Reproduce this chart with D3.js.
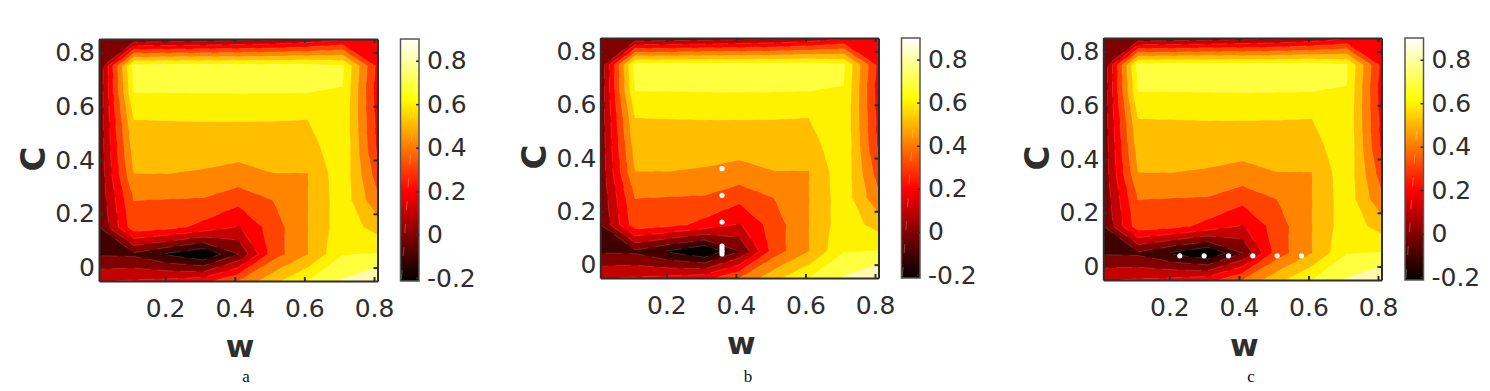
<!DOCTYPE html>
<html>
<head>
<meta charset="utf-8">
<script src="https://cdn.jsdelivr.net/npm/d3@7"></script>
<style>
    body { margin: 0; background: #fff; }
    svg { display: block; }
</style>
</head>
<body>
<svg width="1490" height="391"></svg>
<script>
// grid columns (w) and rows (C), rows listed from the bottom row up
const wGrid = [0.01, 0.11, 0.21, 0.31, 0.41, 0.51, 0.61, 0.71, 0.81];
const cGrid = [-0.05, 0.05, 0.15, 0.25, 0.35, 0.45, 0.55, 0.65, 0.75, 0.85];
const zGrid = [
    [ 0.19,  0.21,  0.23,  0.26,  0.40, 0.57, 0.70, 0.81, 0.90],
    [-0.012, -0.02, -0.115, -0.20, 0.00, 0.35, 0.499, 0.695, 0.705],
    [-0.003, 0.36,  0.33,  0.27,  0.19, 0.35, 0.499, 0.66, 0.56],
    [ 0.02,  0.401, 0.395, 0.39,  0.33, 0.40, 0.499, 0.66, 0.42],
    [ 0.03,  0.50,  0.50,  0.49,  0.47, 0.499, 0.499, 0.67, 0.35],
    [ 0.03,  0.55,  0.55,  0.55,  0.54, 0.55, 0.55, 0.69, 0.28],
    [ 0.03,  0.60,  0.602, 0.604, 0.605, 0.603, 0.60, 0.68, 0.27],
    [ 0.02,  0.70,  0.70,  0.702, 0.703, 0.702, 0.70, 0.697, 0.25],
    [ 0.01,  0.74,  0.74,  0.74,  0.74, 0.74, 0.74, 0.71, 0.27],
    [ 0.01,  0.02,  0.03,  0.045, 0.06, 0.08, 0.12, 0.19, 0.24]
];

const bandLevels = [-0.3, -0.1, 0, 0.1, 0.2, 0.3, 0.4, 0.5, 0.6, 0.7, 0.8];
const bandColors = ["#000000", "#400000", "#800000", "#c40000", "#ff0000", "#ff4400",
    "#ff8400", "#ffbf00", "#fff200", "#ffff40", "#fffab0"];

const barStops = [-0.214, 0.2, 0.62, 0.9];
const barColors = ["#000000", "#ff0000", "#ffff00", "#ffffff"];

const wTicks = [0.2, 0.4, 0.6, 0.8];
const cTicks = [0, 0.2, 0.4, 0.6, 0.8];
const barTicks = [-0.2, 0, 0.2, 0.4, 0.6, 0.8];

// white sample points on panels b and c
const dotsA = { w: [], c: [] };
const dotsB = { w: [0.36, 0.36, 0.36, 0.36, 0.36, 0.36, 0.36], c: [0.36, 0.26, 0.16, 0.07, 0.06, 0.05, 0.04] };
const dotsC = { w: [0.23, 0.30, 0.37, 0.44, 0.51, 0.58], c: [0.04, 0.04, 0.04, 0.04, 0.04, 0.04] };

const panels = [
    { name: "a", left: 99, right: 377.5, top: 39, bottom: 281, barLeft: 400.5, dots: dotsA, nameX: 246 },
    { name: "b", left: 600.3, right: 878.5, top: 38, bottom: 278, barLeft: 901.5, dots: dotsB, nameX: 748 },
    { name: "c", left: 1103.3, right: 1381.5, top: 38, bottom: 280, barLeft: 1405, dots: dotsC, nameX: 1251 }
];

const svg = d3.select("svg");
const ink = "#2e2e2e";
const tickFont = "DejaVu Sans";

const values = zGrid.flat();
const contours = d3.contours()
    .size([wGrid.length, cGrid.length])
    .smooth(true)
    .thresholds(bandLevels)(values);

const wOfIndex = d3.scaleLinear().domain([0, wGrid.length - 1]).range([wGrid[0], wGrid[wGrid.length - 1]]);
const cOfIndex = d3.scaleLinear().domain([0, cGrid.length - 1]).range([cGrid[0], cGrid[cGrid.length - 1]]);

function styleAxis(g) {
    g.select(".domain").attr("stroke", ink).attr("stroke-width", 2);
    g.selectAll(".tick line").attr("stroke", ink).attr("stroke-width", 2);
    g.selectAll(".tick text")
        .attr("fill", ink)
        .attr("font-family", tickFont)
        .attr("font-size", 25);
}

panels.forEach((p, n) => {
    const x = d3.scaleLinear().domain([wGrid[0], wGrid[wGrid.length - 1]]).range([p.left, p.right]);
    const y = d3.scaleLinear().domain([cGrid[0], cGrid[cGrid.length - 1]]).range([p.bottom, p.top]);

    const project = d3.geoTransform({
        point(px, py) {
            this.stream.point(x(wOfIndex(px - 0.5)), y(cOfIndex(py - 0.5)));
        }
    });
    const path = d3.geoPath(project);

    svg.append("clipPath").attr("id", "clip" + n)
        .append("rect")
        .attr("x", p.left).attr("y", p.top)
        .attr("width", p.right - p.left).attr("height", p.bottom - p.top);

    svg.append("g")
        .attr("clip-path", `url(#clip${n})`)
        .selectAll("path")
        .data(contours)
        .join("path")
        .attr("d", path)
        .attr("fill", (d, i) => bandColors[i])
        .attr("stroke", "#fff")
        .attr("stroke-opacity", 0.25)
        .attr("stroke-width", 0.6)
        .attr("stroke-dasharray", "16 7");

    svg.append("g")
        .selectAll("circle")
        .data(p.dots.w.map((w, i) => [w, p.dots.c[i]]))
        .join("circle")
        .attr("cx", d => x(d[0]))
        .attr("cy", d => y(d[1]))
        .attr("r", 2.6)
        .attr("fill", "#fff");

    // box axes, ticks point inward on all four sides
    svg.append("g").attr("transform", `translate(0,${p.bottom})`)
        .call(d3.axisBottom(x).tickValues(wTicks).tickSizeInner(-4).tickSizeOuter(0).tickPadding(18).tickFormat(d3.format(".1f")))
        .call(styleAxis);
    svg.append("g").attr("transform", `translate(0,${p.top})`)
        .call(d3.axisTop(x).tickValues(wTicks).tickSizeInner(-4).tickSizeOuter(0).tickFormat(""))
        .call(styleAxis);
    svg.append("g").attr("transform", `translate(${p.left},0)`)
        .call(d3.axisLeft(y).tickValues(cTicks).tickSizeInner(-4).tickSizeOuter(0).tickPadding(4).tickFormat(d => d === 0 ? "0" : d3.format(".1f")(d)))
        .call(styleAxis);
    svg.append("g").attr("transform", `translate(${p.right},0)`)
        .call(d3.axisRight(y).tickValues(cTicks).tickSizeInner(-4).tickSizeOuter(0).tickFormat(""))
        .call(styleAxis);

    svg.append("text")
        .attr("x", p.left + 141)
        .attr("y", p.bottom + 75.5)
        .attr("text-anchor", "middle")
        .attr("font-family", tickFont)
        .attr("font-weight", "bold")
        .attr("font-size", 31)
        .attr("fill", ink)
        .text("w");

    svg.append("text")
        .attr("transform", `translate(${p.left - 54},${(p.top + p.bottom) / 2 - 1}) rotate(-90)`)
        .attr("text-anchor", "middle")
        .attr("font-family", tickFont)
        .attr("font-weight", "bold")
        .attr("font-size", 34)
        .attr("fill", ink)
        .text("C");

    svg.append("text")
        .attr("x", p.nameX)
        .attr("y", 381.5)
        .attr("text-anchor", "middle")
        .attr("font-family", "Liberation Serif")
        .attr("font-size", 17)
        .attr("fill", "#111")
        .text(p.name);

    // colorbar
    const barW = 18.5;
    const barY = d3.scaleLinear().domain([-0.2, 0.9]).range([p.bottom - 3, p.top]);
    const grad = svg.append("linearGradient").attr("id", "bar" + n)
        .attr("x1", 0).attr("x2", 0).attr("y1", 1).attr("y2", 0);
    grad.selectAll("stop")
        .data(barStops)
        .join("stop")
        .attr("offset", d => (d - barStops[0]) / (barStops[barStops.length - 1] - barStops[0]))
        .attr("stop-color", (d, i) => barColors[i]);

    svg.append("rect")
        .attr("x", p.barLeft).attr("y", p.top)
        .attr("width", barW).attr("height", p.bottom - p.top)
        .attr("fill", `url(#bar${n})`)
        .attr("stroke", "#555")
        .attr("stroke-width", 1.5);

    svg.append("line")
        .attr("x1", p.barLeft + 1).attr("y1", p.bottom - 2)
        .attr("x2", p.barLeft + 15).attr("y2", p.top + 45)
        .attr("stroke", "#fff")
        .attr("stroke-opacity", 0.35)
        .attr("stroke-width", 0.8)
        .attr("stroke-dasharray", "9 14");

    const barAxis = svg.append("g").attr("transform", `translate(${p.barLeft + barW},0)`)
        .call(d3.axisRight(barY).tickValues(barTicks).tickSizeInner(-3).tickSizeOuter(0).tickPadding(8)
            .tickFormat(d => d === 0 ? "0" : d3.format(".1f")(d).replace("\u2212", "-")))
        .call(styleAxis);
    barAxis.select(".domain").remove();
    barAxis.selectAll(".tick line").attr("stroke-width", 1.5);
});
</script>
</body>
</html>
